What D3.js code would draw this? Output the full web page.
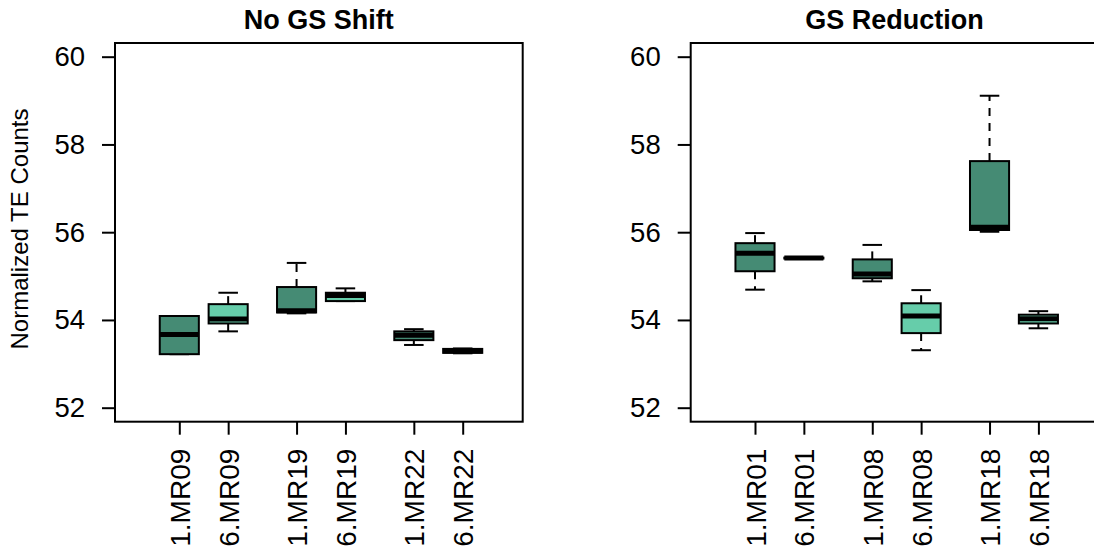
<!DOCTYPE html>
<html>
<head>
<meta charset="utf-8">
<script src="https://cdn.jsdelivr.net/npm/d3@7"></script>
<style>
  html, body { margin: 0; padding: 0; background: #fff; }
  svg { display: block; font-family: "Liberation Sans", Arial, Helvetica, sans-serif; }
</style>
</head>
<body>
<svg id="chart" width="1094" height="560"></svg>
<script>
// Five-number summaries (lower whisker, Q1, median, Q3, upper whisker) per sample
const leftTitle = "No GS Shift";
const leftLabels = ["1.MR09", "6.MR09", "1.MR19", "6.MR19", "1.MR22", "6.MR22"];
const leftLow    = [53.22, 53.74, 54.15, 54.43, 53.43, 53.24];
const leftQ1     = [53.22, 53.92, 54.17, 54.43, 53.54, 53.25];
const leftMedian = [53.67, 54.02, 54.21, 54.56, 53.65, 53.29];
const leftQ3     = [54.09, 54.36, 54.75, 54.62, 53.74, 53.34];
const leftHigh   = [54.09, 54.62, 55.30, 54.72, 53.79, 53.35];

const rightTitle = "GS Reduction";
const rightLabels = ["1.MR01", "6.MR01", "1.MR08", "6.MR08", "1.MR18", "6.MR18"];
const rightLow    = [54.69, 55.39, 54.88, 53.31, 56.01, 53.81];
const rightQ1     = [55.11, 55.40, 54.95, 53.70, 56.05, 53.92];
const rightMedian = [55.52, 55.41, 55.05, 54.09, 56.11, 54.03];
const rightQ3     = [55.75, 55.42, 55.38, 54.38, 57.62, 54.12];
const rightHigh   = [55.98, 55.43, 55.71, 54.68, 59.11, 54.20];

const yTicks = [52, 54, 56, 58, 60];
const yLabel = "Normalized TE Counts";
const fillColors = ["#458B74", "#66CDAA"];

const svg = d3.select("#chart");
const plotTop = 43, plotBottom = 421.7;
const boxWidth = 0.8;

const y = d3.scaleLinear().domain([51.681, 60.312]).range([plotBottom, plotTop]);

// Boxes sit in pairs: 1 unit apart within a pair, 1.4 units between pairs
const slot = i => 1 + i + Math.floor(i / 2) * 0.4;

function panel(left, title, labels, low, q1, med, q3, high) {
  const width = 407.7;
  const x = d3.scaleLinear().domain([-0.316, 8.028]).range([left, left + width]);
  const g = svg.append("g");

  const data = labels.map((lab, i) => ({
    lab, pos: slot(i), low: low[i], q1: q1[i], med: med[i], q3: q3[i], high: high[i],
    fill: fillColors[i % 2]
  }));

  const half = boxWidth / 2;
  const cap = boxWidth / 4;

  const b = g.selectAll("g.box").data(data).join("g").attr("class", "box");

  // dashed whiskers
  b.filter(d => d.high > d.q3).append("line")
    .attr("x1", d => x(d.pos)).attr("x2", d => x(d.pos))
    .attr("y1", d => y(d.q3)).attr("y2", d => y(d.high))
    .attr("stroke", "#000").attr("stroke-width", 2).attr("stroke-dasharray", "8,7");
  b.filter(d => d.low < d.q1).append("line")
    .attr("x1", d => x(d.pos)).attr("x2", d => x(d.pos))
    .attr("y1", d => y(d.q1)).attr("y2", d => y(d.low))
    .attr("stroke", "#000").attr("stroke-width", 2).attr("stroke-dasharray", "8,7");
  // staples
  b.append("line")
    .attr("x1", d => x(d.pos - cap)).attr("x2", d => x(d.pos + cap))
    .attr("y1", d => y(d.high)).attr("y2", d => y(d.high))
    .attr("stroke", "#000").attr("stroke-width", 2);
  b.append("line")
    .attr("x1", d => x(d.pos - cap)).attr("x2", d => x(d.pos + cap))
    .attr("y1", d => y(d.low)).attr("y2", d => y(d.low))
    .attr("stroke", "#000").attr("stroke-width", 2);
  // box
  b.append("rect")
    .attr("x", d => x(d.pos - half))
    .attr("width", d => x(d.pos + half) - x(d.pos - half))
    .attr("y", d => y(d.q3))
    .attr("height", d => Math.max(0.5, y(d.q1) - y(d.q3)))
    .attr("fill", d => d.fill).attr("stroke", "#000").attr("stroke-width", 2);
  // median
  b.append("line")
    .attr("x1", d => x(d.pos - half)).attr("x2", d => x(d.pos + half))
    .attr("y1", d => y(d.med)).attr("y2", d => y(d.med))
    .attr("stroke", "#000").attr("stroke-width", 5);

  // frame
  g.append("rect")
    .attr("x", left).attr("y", plotTop)
    .attr("width", width).attr("height", plotBottom - plotTop)
    .attr("fill", "none").attr("stroke", "#000").attr("stroke-width", 2);

  // y axis
  const ya = g.append("g").attr("transform", `translate(${left},0)`)
    .call(d3.axisLeft(y).tickValues(yTicks).tickSize(13).tickSizeOuter(0).tickPadding(17)
      .tickFormat(d3.format("d")));
  ya.select(".domain").remove();
  ya.selectAll(".tick line").attr("stroke", "#000").attr("stroke-width", 2);
  ya.selectAll(".tick text").attr("font-size", 27.5).attr("fill", "#000")
    .attr("font-family", "Liberation Sans, Arial, sans-serif");

  // x axis
  const xa = g.append("g").attr("transform", `translate(0,${plotBottom})`)
    .call(d3.axisBottom(x).tickValues(data.map(d => d.pos)).tickSize(13).tickSizeOuter(0)
      .tickFormat((d, i) => labels[i]));
  xa.select(".domain").remove();
  xa.selectAll(".tick line").attr("stroke", "#000").attr("stroke-width", 2);
  xa.selectAll(".tick text")
    .attr("font-size", 28).attr("fill", "#000")
    .attr("font-family", "Liberation Sans, Arial, sans-serif")
    .attr("text-anchor", "end")
    .attr("transform", "translate(0,27) rotate(-90)")
    .attr("x", 0).attr("y", 0).attr("dy", "0.36em");

  // title
  g.append("text")
    .attr("x", left + width / 2).attr("y", 29)
    .attr("text-anchor", "middle")
    .attr("font-size", 27).attr("font-weight", "bold")
    .text(title);
}

panel(115, leftTitle, leftLabels, leftLow, leftQ1, leftMedian, leftQ3, leftHigh);
panel(690.7, rightTitle, rightLabels, rightLow, rightQ1, rightMedian, rightQ3, rightHigh);

svg.append("text")
  .attr("transform", `translate(28,229) rotate(-90)`)
  .attr("text-anchor", "middle")
  .attr("font-size", 24)
  .text(yLabel);
</script>
</body>
</html>
